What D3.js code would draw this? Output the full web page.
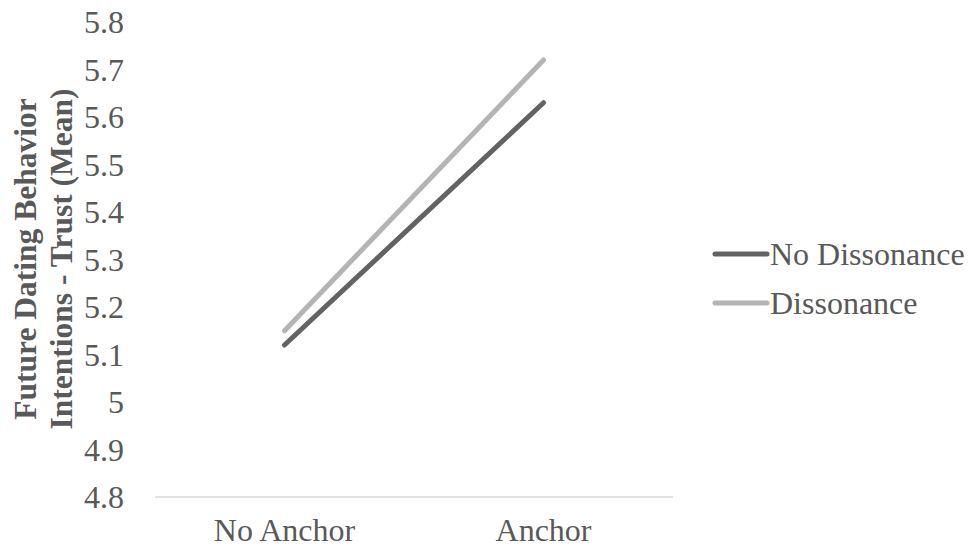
<!DOCTYPE html>
<html><head><meta charset="utf-8">
<script src="https://cdn.jsdelivr.net/npm/d3@7"></script>
<style>body{margin:0;background:#fff}</style>
</head><body><svg id="c" width="971" height="548"></svg>
<script>
const categories = ["No Anchor", "Anchor"];
const seriesNames = ["No Dissonance", "Dissonance"];
const noDissonance = [5.12, 5.63];
const dissonance = [5.15, 5.72];
const yTicks = [4.8, 4.9, 5, 5.1, 5.2, 5.3, 5.4, 5.5, 5.6, 5.7, 5.8];
const colors = ["#636363", "#b4b4b4"];
const FONT = "'Liberation Serif', 'Times New Roman', Times, 'DejaVu Serif', serif";

const svg = d3.select("#c").attr("font-family", FONT);
const m = {left:155, right:673, top:22, bottom:497};
const x = d3.scaleBand().domain(categories).range([m.left, m.right]);
const y = d3.scaleLinear().domain([4.8, 5.8]).range([m.bottom, m.top]);

svg.append("line").attr("x1", m.left).attr("x2", m.right)
  .attr("y1", y(4.8)).attr("y2", y(4.8)).attr("stroke", "#d9d9d9").attr("stroke-width", 1.5);

svg.selectAll(".yt").data(yTicks).enter().append("text")
  .attr("font-family", FONT).attr("fill", "#595959")
  .attr("x", 124).attr("y", d => y(d)).attr("dy", "0.35em")
  .attr("text-anchor", "end").attr("font-size", 32).text(d => String(+d.toFixed(1)));

svg.selectAll(".xt").data(categories).enter().append("text")
  .attr("font-family", FONT).attr("fill", "#595959")
  .attr("x", d => x(d) + x.bandwidth()/2).attr("y", 541)
  .attr("text-anchor", "middle").attr("font-size", 32).text(d => d);

const yt = svg.append("text").attr("transform", "translate(0,259) rotate(-90)")
  .attr("font-family", FONT).attr("fill", "#595959")
  .attr("text-anchor", "middle").attr("font-size", 31.5).attr("font-weight", "bold");
yt.append("tspan").attr("x", 0).attr("y", 36).text("Future Dating Behavior");
yt.append("tspan").attr("x", 0).attr("y", 72).text("Intentions - Trust (Mean)");

const series = [noDissonance, dissonance];
const line = d3.line().x((d, i) => x(categories[i]) + x.bandwidth()/2).y(d => y(d));
series.forEach((s, i) => {
  svg.append("path").datum(s).attr("d", line).attr("fill", "none")
    .attr("stroke", colors[i]).attr("stroke-width", 5).attr("stroke-linecap", "round");
});

seriesNames.forEach((n, i) => {
  const ly = 254 + i * 49;
  svg.append("line").attr("x1", 715).attr("x2", 767).attr("y1", ly).attr("y2", ly)
    .attr("stroke", colors[i]).attr("stroke-width", 5).attr("stroke-linecap", "round");
  svg.append("text").attr("font-family", FONT).attr("fill", "#595959")
    .attr("x", 770).attr("y", ly).attr("dy", "0.35em")
    .attr("font-size", 32).text(n);
});
</script></body></html>
